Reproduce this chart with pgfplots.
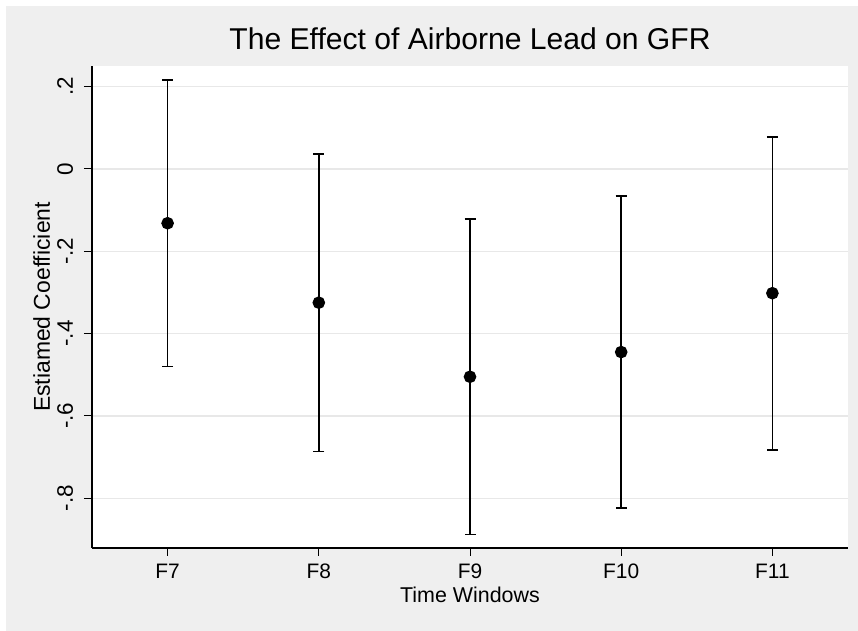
\documentclass[border=0pt]{standalone}
\usepackage{pgfplots}
\pgfplotsset{compat=1.18}
\usepackage{fontspec}
\setmainfont{Liberation Sans}
\definecolor{bgg}{RGB}{239,239,239}
\definecolor{grd}{RGB}{232,232,232}
\pgfplotstableread{
x y ep em
1 -0.132 0.348 0.348
2 -0.325 0.361 0.362
3 -0.505 0.383 0.383
4 -0.445 0.379 0.379
5 -0.302 0.380 0.381
}\coefs
\begin{document}
\begin{tikzpicture}
\path[use as bounding box] (0,0) rectangle (858bp,631bp);
\fill[white] (0,0) rectangle (858bp,631bp);
\fill[bgg] (6bp,0) rectangle (858bp,625bp);
\begin{axis}[
  at={(92bp,83bp)}, anchor=south west, scale only axis,
  width=756bp, height=482bp,
  xmin=0.5, xmax=5.5, ymin=-0.921, ymax=0.25,
  axis x line*=bottom, axis y line*=left,
  axis line style={black, line width=1.2bp, -},
  axis background/.style={fill=white},
  xtick={1,2,3,4,5}, xticklabels={F7,F8,F9,F10,F11},
  ytick={-0.8,-0.6,-0.4,-0.2,0,0.2}, yticklabels={-.8,-.6,-.4,-.2,0,.2},
  tick align=outside, major tick length=8bp,
  tick style={black, line width=1bp},
  ymajorgrids, grid style={grd, line width=1.3bp},
  xticklabel style={font=\fontsize{21}{25}\selectfont, anchor=base, yshift=-23bp},
  yticklabel style={font=\fontsize{22.5}{26}\selectfont, xshift=-11bp, rotate=90, anchor=base},
  title={The Effect of Airborne Lead on GFR},
  title style={font=\fontsize{30.2}{35}\selectfont, at={(axis description cs:0.5,1)}, anchor=base, yshift=11bp},
  xlabel={Time Windows},
  xlabel style={font=\fontsize{21.5}{25}\selectfont, at={(axis description cs:0.5,0)}, anchor=base, yshift=-54bp},
  ylabel={Estiamed Coefficient},
  ylabel style={font=\fontsize{23}{27}\selectfont, at={([xshift=-42bp]axis description cs:0,0.5)}, anchor=base, rotate=0},
]
\addplot[black, line width=1.6bp, only marks, mark=*, mark size=5.5bp,
  error bars/.cd, y dir=both, y explicit,
  error bar style={black, line width=1.6bp},
  error mark options={black, line width=1.6bp, mark size=5.5bp, rotate=90}]
  table[x=x, y=y, y error plus=ep, y error minus=em] {\coefs};
\end{axis}
\end{tikzpicture}
\end{document}
